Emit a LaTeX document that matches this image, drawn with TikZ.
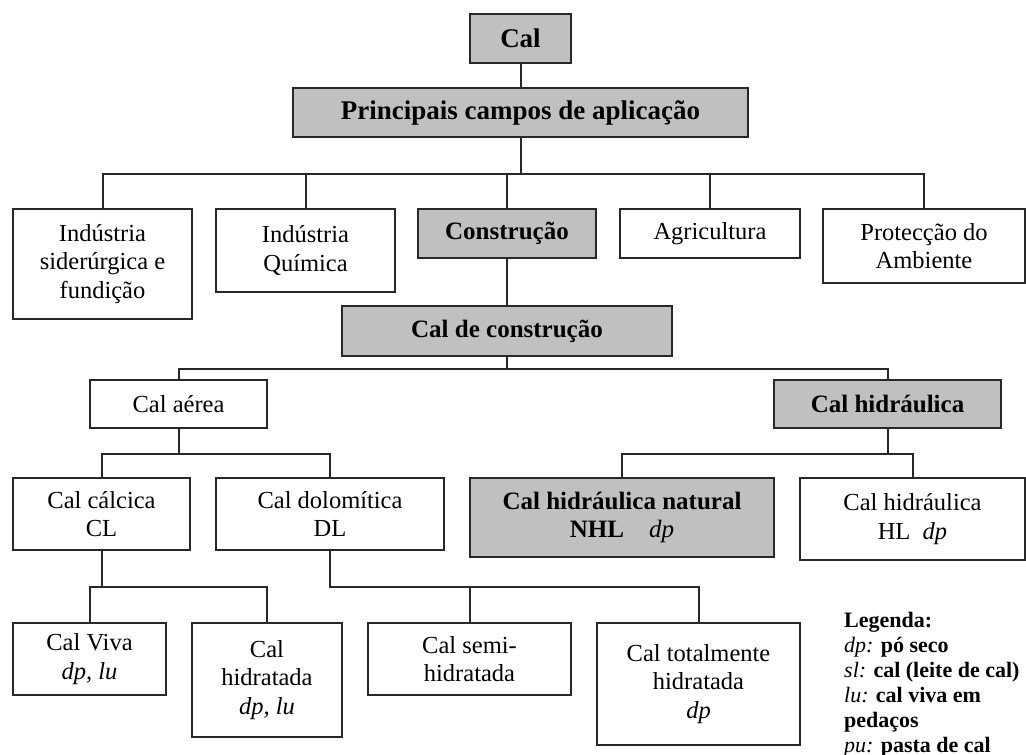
\documentclass[tikz,border=0pt]{standalone}
\usepackage{fontspec}
\setmainfont{Liberation Serif}
\definecolor{grayc}{RGB}{192,192,192}
\definecolor{linec}{RGB}{40,40,40}
\newcommand{\normfont}{\fontsize{24.5}{28.5}\selectfont}
\newcommand{\boldfnt}{\fontsize{25}{28.5}\selectfont\bfseries}
\newcommand{\bigbold}{\fontsize{27}{30}\selectfont\bfseries}
\newcommand{\legfont}{\fontsize{22}{25}\selectfont}
\tikzset{
  wbox/.style={draw=linec, line width=2pt, fill=white, inner sep=0pt, align=center, font=\normfont, text=black},
  gbox/.style={wbox, fill=grayc, font=\boldfnt},
  conn/.style={draw=linec, line width=2pt},
  leg/.style={anchor=base west, inner sep=0pt, font=\legfont, text=black}
}
\begin{document}
\begin{tikzpicture}[x=1pt,y=-1pt]
\useasboundingbox[fill=white] (0,0) rectangle (1026,755);
% level 0-1
\node[gbox,font=\bigbold,minimum width=101pt,minimum height=49pt] (cal) at (520.5,38.5) {Cal};
\node[gbox,font=\bigbold,minimum width=455pt,minimum height=49pt] (pc) at (520.5,112.5) {Principais campos de aplicação};
% level 2
\node[wbox,minimum width=179pt,minimum height=110pt] (sid) at (102.5,264) {Indústria\\siderúrgica e\\fundição};
\node[wbox,minimum width=179pt,minimum height=83pt] (qui) at (305.5,250.5) {Indústria\\Química};
\node[gbox,minimum width=178pt,minimum height=49pt] (con) at (507,233.5) {Construção};
\node[wbox,minimum width=180pt,minimum height=49pt] (agr) at (710,233.5) {Agricultura};
\node[wbox,minimum width=202pt,minimum height=74pt] (amb) at (924,246) {Protecção do\\Ambiente};
% level 3
\node[gbox,minimum width=330pt,minimum height=50pt] (cdc) at (507,331) {Cal de construção};
\node[wbox,minimum width=177pt,minimum height=48pt] (aer) at (178.5,404) {Cal aérea};
\node[gbox,minimum width=227pt,minimum height=48pt] (hid) at (887.5,404) {Cal hidráulica};
% level 4
\node[wbox,minimum width=177pt,minimum height=72pt] (cl) at (101.5,514) {Cal cálcica\\CL};
\node[wbox,minimum width=228pt,minimum height=72pt] (dl) at (330,514) {Cal dolomítica\\DL};
\node[gbox,minimum width=304pt,minimum height=79pt] (nhl) at (622,517.5) {Cal hidráulica natural\\NHL\quad{\normalfont\itshape dp}};
\node[wbox,minimum width=225pt,minimum height=82pt] (hl) at (912.5,519) {Cal hidráulica\\HL\enspace\textit{dp}};
% level 5
\node[wbox,minimum width=153pt,minimum height=72pt] (viva) at (89.5,659) {Cal Viva\\\textit{dp, lu}};
\node[wbox,minimum width=150pt,minimum height=114pt] (hidr) at (267,680) {Cal\\hidratada\\\textit{dp, lu}};
\node[wbox,minimum width=203pt,minimum height=72pt] (semi) at (469.5,659) {Cal semi-\\hidratada};
\node[wbox,minimum width=203pt,minimum height=122pt] (tot) at (698.5,684) {Cal totalmente\\hidratada\\\textit{dp}};
% connectors
\draw[conn] (cal.south) -- (pc.north);
\foreach \c in {sid,qui,con,agr,amb} \draw[conn] (pc.south) -- ++(0,36) -| (\c.north);
\draw[conn] (con.south) -- (cdc.north);
\foreach \c in {aer,hid} \draw[conn] (cdc.south) -- ++(0,12) -| (\c.north);
\foreach \c in {cl,dl} \draw[conn] (aer.south) -- ++(0,25) -| (\c.north);
\foreach \c in {nhl,hl} \draw[conn] (hid.south) -- ++(0,25) -| (\c.north);
\foreach \c in {viva,hidr} \draw[conn] (cl.south) -- ++(0,36) -| (\c.north);
\foreach \c in {semi,tot} \draw[conn] (dl.south) -- ++(0,36) -| (\c.north);
% legend
\node[leg] (l1) at (844,627) {\textbf{Legenda:}};
\node[leg] (l2) at (844,652) {\textit{dp:} \textbf{pó seco}};
\node[leg] (l3) at (844,677) {\textit{sl:} \textbf{cal (leite de cal)}};
\node[leg] (l4) at (844,702) {\textit{lu:} \textbf{cal viva em}};
\node[leg] (l5) at (844,727) {\textbf{pedaços}};
\node[leg] (l6) at (844,752) {\textit{pu:} \textbf{pasta de cal}};
\end{tikzpicture}
\end{document}
